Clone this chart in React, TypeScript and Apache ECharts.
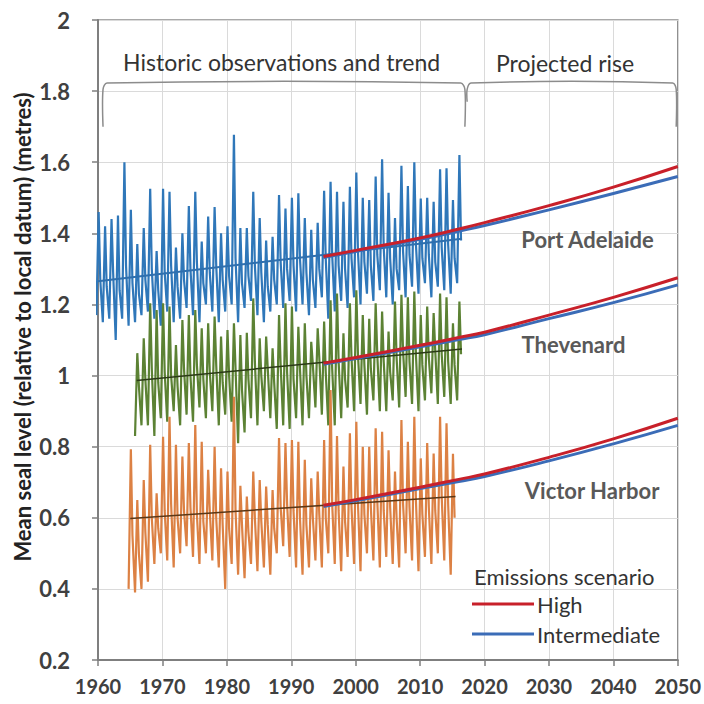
import React, { useEffect, useRef } from "react";
import * as echarts from "echarts";

const FONT = "Lato, 'Open Sans', sans-serif";

// Port Adelaide (annual peak / mid-level / trough readings), 1960-2016
const paStart = 1960;
const paPeaks = [
  1.46, 1.42, 1.44, 1.45, 1.6, 1.466, 1.37, 1.415, 1.525, 1.35,
  1.525, 1.517, 1.36, 1.4, 1.477, 1.517, 1.377, 1.447, 1.474, 1.4,
  1.42, 1.677, 1.415, 1.415, 1.517, 1.443, 1.38, 1.39, 1.508, 1.47,
  1.5, 1.513, 1.443, 1.41, 1.43, 1.52, 1.545, 1.517, 1.489, 1.531,
  1.571, 1.5, 1.494, 1.56, 1.608, 1.514, 1.443, 1.59, 1.533, 1.6,
  1.498, 1.5, 1.489, 1.58, 1.583, 1.494, 1.62,
];
const paMids = [
  1.27, 1.25, 1.29, 1.24, 1.31, 1.26, 1.23, 1.27, 1.3, 1.24,
  1.29, 1.31, 1.25, 1.27, 1.3, 1.32, 1.26, 1.29, 1.31, 1.27,
  1.28, 1.33, 1.26, 1.28, 1.31, 1.29, 1.25, 1.27, 1.32, 1.3,
  1.31, 1.33, 1.29, 1.27, 1.3, 1.33, 1.34, 1.31, 1.3, 1.33,
  1.35, 1.32, 1.31, 1.34, 1.36, 1.33, 1.3, 1.35, 1.34, 1.37,
  1.33, 1.34, 1.32, 1.36, 1.37, 1.33, 1.38,
];
const paLows = [
  1.17, 1.15, 1.16, 1.1, 1.16, 1.14, 1.15, 1.17, 1.18, 1.16,
  1.14, 1.18, 1.15, 1.16, 1.19, 1.17, 1.15, 1.2, 1.18, 1.15,
  1.18, 1.2, 1.15, 1.19, 1.21, 1.17, 1.15, 1.18, 1.2, 1.19,
  1.21, 1.18, 1.2, 1.17, 1.19, 1.22, 1.16, 1.18, 1.21, 1.19,
  1.22, 1.2, 1.23, 1.21, 1.24, 1.22, 1.2, 1.24, 1.22, 1.25,
  1.23, 1.26, 1.22, 1.25, 1.24, 1.23, 1.26,
];

// Thevenard, 1966-2016
const thStart = 1966;
const thPeaks = [
  1.063, 1.105, 1.203, 1.184, 1.203, 1.194, 1.086, 1.156, 1.17, 1.184,
  1.133, 1.147, 1.166, 1.11, 1.128, 1.147, 1.114, 1.12, 1.217, 1.105,
  1.11, 1.077, 1.17, 1.203, 1.194, 1.137, 1.147, 1.095, 1.133, 1.152,
  1.212, 1.231, 1.119, 1.203, 1.24, 1.17, 1.16, 1.203, 1.18, 1.124,
  1.208, 1.227, 1.22, 1.236, 1.17, 1.194, 1.176, 1.231, 1.22, 1.147,
  1.208,
];
const thMids = [
  0.97, 0.99, 1.02, 0.98, 1.01, 1.0, 0.97, 1.02, 1.0, 1.03,
  0.99, 1.01, 1.03, 0.98, 1.0, 1.02, 0.96, 0.99, 1.04, 1.0,
  1.02, 0.98, 1.03, 1.01, 0.99, 1.02, 1.0, 1.03, 1.05, 1.01,
  1.02, 1.04, 0.99, 1.05, 1.06, 1.03, 1.02, 1.06, 1.04, 1.01,
  1.05, 1.07, 1.04, 1.06, 1.03, 1.05, 1.07, 1.06, 1.04, 1.03,
  1.06,
];
const thLows = [
  0.83, 0.86, 0.86, 0.83, 0.88, 0.87, 0.9, 0.86, 0.89, 0.87,
  0.91, 0.88, 0.9, 0.86, 0.89, 0.87, 0.81, 0.84, 0.88, 0.86,
  0.9, 0.88, 0.85, 0.86, 0.85, 0.88, 0.86, 0.88, 0.91, 0.89,
  0.86, 0.86, 0.88, 0.91, 0.9, 0.92, 0.89, 0.93, 0.9, 0.9,
  0.93, 0.91, 0.94, 0.92, 0.9, 0.93, 0.95, 0.92, 0.94, 0.92,
  0.93,
];

// Victor Harbor, 1965-2015
const vhStart = 1965;
const vhPeaks = [
  0.793, 0.65, 0.706, 0.805, 0.669, 0.828, 0.884, 0.805, 0.772, 0.81,
  0.861, 0.814, 0.735, 0.8, 0.739, 0.73, 0.94, 0.69, 0.66, 0.73,
  0.706, 0.688, 0.678, 0.824, 0.81, 0.819, 0.814, 0.763, 0.711, 0.73,
  0.819, 0.959, 0.83, 0.744, 0.838, 0.87, 0.8, 0.8, 0.852, 0.842,
  0.79, 0.73, 0.875, 0.814, 0.884, 0.767, 0.81, 0.781, 0.884, 0.866,
  0.78,
];
const vhMids = [
  0.55, 0.5, 0.56, 0.6, 0.57, 0.62, 0.64, 0.6, 0.62, 0.63,
  0.61, 0.59, 0.62, 0.6, 0.58, 0.57, 0.62, 0.58, 0.56, 0.6,
  0.59, 0.58, 0.57, 0.63, 0.64, 0.62, 0.6, 0.58, 0.6, 0.61,
  0.6, 0.64, 0.62, 0.59, 0.63, 0.64, 0.61, 0.63, 0.65, 0.62,
  0.63, 0.6, 0.64, 0.63, 0.65, 0.61, 0.63, 0.62, 0.66, 0.64,
  0.6,
];
const vhLows = [
  0.4, 0.39, 0.4, 0.42, 0.47, 0.5, 0.48, 0.46, 0.5, 0.52,
  0.49, 0.47, 0.5, 0.48, 0.46, 0.4, 0.47, 0.44, 0.43, 0.47,
  0.45, 0.46, 0.44, 0.5, 0.52, 0.49, 0.46, 0.44, 0.46, 0.48,
  0.46, 0.5, 0.47, 0.45, 0.49, 0.47, 0.45, 0.5, 0.48, 0.46,
  0.49, 0.47, 0.46, 0.5, 0.48, 0.45, 0.49, 0.47, 0.5, 0.48,
  0.44,
];

// Historic linear trends [year, level]
const paTrend = [[1960, 1.265], [2016.5, 1.385]];
const thTrend = [[1966, 0.986], [2016.5, 1.075]];
const vhTrend = [[1965, 0.598], [2015.5, 0.66]];

// Projections
const projYears = [1995, 2000, 2010, 2016, 2020, 2030, 2040, 2050];
const paHigh = [1.335, 1.352, 1.387, 1.412, 1.43, 1.478, 1.53, 1.588];
const paInter = [1.332, 1.349, 1.383, 1.406, 1.422, 1.466, 1.512, 1.56];
const thHigh = [1.035, 1.051, 1.085, 1.107, 1.122, 1.17, 1.22, 1.275];
const thInter = [1.032, 1.048, 1.081, 1.101, 1.115, 1.16, 1.205, 1.255];
const vhHigh = [0.635, 0.651, 0.686, 0.708, 0.723, 0.77, 0.822, 0.88];
const vhInter = [0.632, 0.648, 0.682, 0.702, 0.716, 0.76, 0.808, 0.86];

const C_BLUE = "#2f77b9";
const C_GREEN = "#5c8234";
const C_ORANGE = "#dc8144";
const C_HIGH = "#c8202a";
const C_INTER = "#3b6cb7";

function tideSeries(start: number, peaks: number[], mids: number[], lows: number[]) {
  const out: number[][] = [];
  peaks.forEach((pk, i) => {
    const yr = start + i;
    out.push([yr - 0.25, lows[i]]);
    out.push([yr + 0.1, pk]);
    out.push([yr + 0.35, mids[i]]);
  });
  return out;
}

const zip = (xs: number[], ys: number[]) => xs.map((x, i) => [x, ys[i]]);

export default function App() {
  const ref = useRef<HTMLDivElement>(null);
  useEffect(() => {
    if (!ref.current) return;
    const chart = echarts.init(ref.current, null, { renderer: "svg" });
    const dataLine = (name: string, data: number[][], color: string) => ({
      name,
      type: "line",
      data,
      symbol: "none",
      showSymbol: false,
      lineStyle: { width: 2.2, color },
      itemStyle: { color },
      z: 2,
    });
    const trendLine = (data: number[][], color: string, width: number) => ({
      type: "line",
      data,
      symbol: "none",
      lineStyle: { width, color },
      itemStyle: { color },
      z: 3,
    });
    const projLine = (name: string, data: number[][], color: string) => ({
      name,
      type: "line",
      data,
      smooth: true,
      symbol: "none",
      lineStyle: { width: 3, color },
      itemStyle: { color },
      z: 4,
    });
    chart.setOption({
      animation: false,
      grid: {
        left: 98,
        right: 26,
        top: 20,
        bottom: 44,
        show: true,
        borderColor: "#8c8c8c",
        borderWidth: 1.5,
      },
      xAxis: {
        type: "value",
        min: 1960,
        max: 2050,
        interval: 10,
        axisLine: { show: true, lineStyle: { color: "#7f7f7f", width: 2 } },
        axisTick: { show: true, length: 6, lineStyle: { color: "#7f7f7f", width: 1.5 } },
        axisLabel: {
          margin: 16,
          fontSize: 20,
          fontWeight: "bold",
          fontFamily: FONT,
          color: "#404040",
          formatter: (v: number) => String(v),
        },
        splitLine: { show: true, lineStyle: { color: "#dadada", width: 1 } },
      },
      yAxis: {
        type: "value",
        min: 0.2,
        max: 2,
        interval: 0.2,
        axisLine: { show: true, lineStyle: { color: "#7f7f7f", width: 2 } },
        axisTick: { show: true, length: 6, lineStyle: { color: "#7f7f7f", width: 1.5 } },
        axisLabel: {
          margin: 28,
          fontSize: 22,
          fontWeight: "bold",
          fontFamily: FONT,
          color: "#404040",
        },
        splitLine: { show: true, lineStyle: { color: "#dadada", width: 1 } },
      },
      legend: {
        data: ["High", "Intermediate"],
        orient: "vertical",
        left: 472,
        top: 592,
        icon: "rect",
        itemWidth: 62,
        itemHeight: 3,
        itemGap: 6,
        padding: 0,
        selectedMode: false,
        textStyle: { fontSize: 22, fontFamily: FONT, color: "#333", lineHeight: 24, padding: [0, 0, 0, -2] },
      },
      series: [
        dataLine("Port Adelaide", tideSeries(paStart, paPeaks, paMids, paLows), C_BLUE),
        dataLine("Thevenard", tideSeries(thStart, thPeaks, thMids, thLows), C_GREEN),
        dataLine("Victor Harbor", tideSeries(vhStart, vhPeaks, vhMids, vhLows), C_ORANGE),
        trendLine(paTrend, "#2e6fae", 2),
        trendLine(thTrend, "#2b3a16", 1.5),
        trendLine(vhTrend, "#5b3716", 1.5),
        projLine("Intermediate", zip(projYears, paInter), C_INTER),
        projLine("Intermediate", zip(projYears, thInter), C_INTER),
        projLine("Intermediate", zip(projYears, vhInter), C_INTER),
        projLine("High", zip(projYears, paHigh), C_HIGH),
        projLine("High", zip(projYears, thHigh), C_HIGH),
        projLine("High", zip(projYears, vhHigh), C_HIGH),
      ],
    });

    const p = (x: number, y: number) => chart.convertToPixel({ gridIndex: 0 }, [x, y]) as number[];
    const bracketStyle = { stroke: "#8c8c8c", lineWidth: 1.5, fill: "none" };
    const hb = [
      p(1960.78, 1.7), p(1960.78, 1.805), p(1961.4, 1.823), p(2016.3, 1.823),
      p(2016.95, 1.805), p(2016.95, 1.7),
    ];
    const pb = [
      p(2017.3, 1.77), p(2017.3, 1.805), p(2017.9, 1.823), p(2049.2, 1.823),
      p(2049.75, 1.805), p(2049.75, 1.7),
    ];
    const hTxt = p(1988.5, 1.882);
    const pTxt = p(2032.5, 1.879);
    const labPA = p(2036.0, 1.384);
    const labTh = p(2033.8, 1.086);
    const labVH = p(2036.7, 0.678);
    const stationText = (pt: number[], text: string) => ({
      type: "text",
      x: pt[0],
      y: pt[1],
      style: {
        text,
        fill: "#595959",
        font: `bold 22px ${FONT}`,
        textAlign: "center",
        textVerticalAlign: "middle",
      },
      z: 10,
    });
    const plainText = (pt: number[], text: string) => ({
      type: "text",
      x: pt[0],
      y: pt[1],
      style: {
        text,
        fill: "#333",
        font: `23px ${FONT}`,
        textAlign: "center",
        textVerticalAlign: "middle",
      },
      z: 10,
    });
    chart.setOption({
      graphic: [
        { type: "polyline", shape: { points: hb, smooth: 0.3 }, style: bracketStyle, z: 10 },
        { type: "polyline", shape: { points: pb, smooth: 0.3 }, style: bracketStyle, z: 10 },
        plainText(hTxt, "Historic observations and trend"),
        plainText(pTxt, "Projected rise"),
        stationText(labPA, "Port Adelaide"),
        stationText(labTh, "Thevenard"),
        stationText(labVH, "Victor Harbor"),
        {
          type: "text",
          x: 474,
          y: 576,
          style: {
            text: "Emissions scenario",
            fill: "#333",
            font: `22px ${FONT}`,
            textAlign: "left",
            textVerticalAlign: "middle",
          },
          z: 10,
        },
        {
          type: "text",
          x: 22,
          y: 327,
          rotation: Math.PI / 2,
          style: {
            text: "Mean seal level (relative to local datum) (metres)",
            fill: "#222",
            font: `bold 22px ${FONT}`,
            textAlign: "center",
            textVerticalAlign: "middle",
          },
          z: 10,
        },
      ],
    });
    return () => chart.dispose();
  }, []);
  return (
    <div
      ref={ref}
      style={{ position: "fixed", left: 0, top: 0, width: 704, height: 704, background: "#fff" }}
    />
  );
}
